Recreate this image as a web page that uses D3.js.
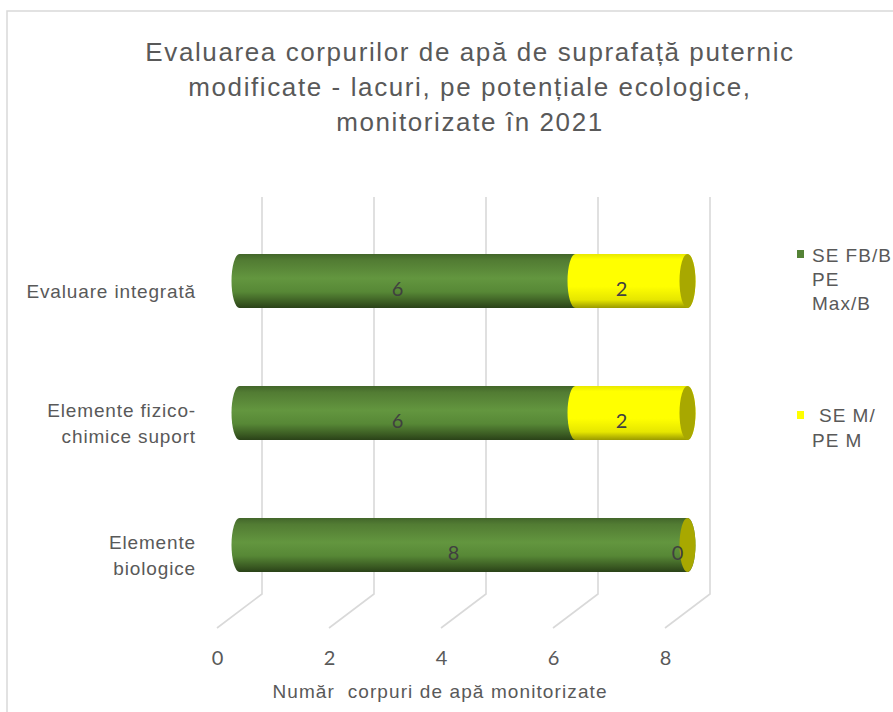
<!DOCTYPE html>
<html>
<head>
<meta charset="utf-8">
<script src="https://cdn.jsdelivr.net/npm/d3@7"></script>
<style>
  html, body { margin: 0; padding: 0; background: #fff; }
  svg { display: block; }
</style>
</head>
<body>
<svg id="chart" width="893" height="712"></svg>
<script>
// ---- data ----
const categories = ["Evaluare integrată", "Elemente fizico-chimice suport", "Elemente biologice"];
const categoryLines = [["Evaluare integrată"], ["Elemente fizico-", "chimice suport"], ["Elemente", "biologice"]];
const seriesNames = ["SE FB/B PE Max/B", "SE M/ PE M"];
const seriesGood = [6, 6, 8];
const seriesModerate = [2, 2, 0];
const tickValues = [0, 2, 4, 6, 8];
const titleLines = ["Evaluarea corpurilor de apă de suprafață puternic", "modificate - lacuri, pe potențiale ecologice,", "monitorizate în 2021"];
const axisTitle = "Număr  corpuri de apă monitorizate";

const svg = d3.select("#chart");
const textColor = "#595959";
const arial = "Liberation Sans, Arial, sans-serif";

// border
svg.append("rect").attr("x", 7).attr("y", 11).attr("width", 1000).attr("height", 1000)
  .attr("fill", "none").attr("stroke", "#d9d9d9").attr("stroke-width", 1.5);

// title
svg.append("g").selectAll("text").data(titleLines).join("text")
  .attr("x", 470).attr("y", (d, i) => 61 + i * 35)
  .attr("text-anchor", "middle")
  .attr("font-family", arial).attr("letter-spacing", "1.6px")
  .attr("font-size", 26).attr("fill", textColor).text(d => d);

// scales: front, mid (bars), back planes
const xFront = d3.scaleLinear().domain([0, 8]).range([217, 665]);
const xMid = d3.scaleLinear().domain([0, 8]).range([239.5, 687.5]);
const xBack = d3.scaleLinear().domain([0, 8]).range([262, 710]);
const y = d3.scaleBand().domain(categories).range([215, 611]).paddingInner(0.591).paddingOuter(0.2955);
const wallTop = 197, wallBottom = 594, floorFront = 628;

// gridlines (back wall + floor)
const grid = svg.append("g").attr("stroke", "#d9d9d9").attr("stroke-width", 1.6).attr("fill", "none");
grid.selectAll("path").data(tickValues).join("path")
  .attr("d", d => `M${xBack(d)},${wallTop} L${xBack(d)},${wallBottom} L${xFront(d)},${floorFront}`);

// tick labels
const axis = d3.axisBottom(xFront).tickValues(tickValues).tickSize(0).tickPadding(0).tickFormat(d3.format("d"));
const axG = svg.append("g").attr("transform", `translate(0,${665})`).call(axis);
axG.select(".domain").remove();
axG.selectAll("text").attr("dy", 0).attr("font-family", "Lato, Carlito, sans-serif")
  .attr("font-size", 20).attr("fill", textColor);

// axis title
svg.append("text").attr("x", 440).attr("y", 698).attr("text-anchor", "middle")
  .attr("xml:space", "preserve").style("white-space", "pre")
  .attr("font-family", arial).attr("letter-spacing", "1.1px")
  .attr("font-size", 19).attr("fill", textColor).text(axisTitle);

// category labels
const catG = svg.append("g");
categories.forEach((c, i) => {
  const lines = categoryLines[i];
  const cy = y(c) + y.bandwidth() / 2 + 10;
  const lh = 26;
  const t = catG.append("text").attr("text-anchor", "end")
    .attr("font-family", arial).attr("letter-spacing", "0.85px")
    .attr("font-size", 19).attr("fill", textColor);
  lines.forEach((l, j) => {
    t.append("tspan").attr("x", 196).attr("y", cy + 7 + (j - (lines.length - 1) / 2) * lh).text(l);
  });
});

// gradients
const defs = svg.append("defs");
function grad(id, stops) {
  const g = defs.append("linearGradient").attr("id", id).attr("x1", 0).attr("y1", 0).attr("x2", 0).attr("y2", 1);
  stops.forEach(s => g.append("stop").attr("offset", s[0]).attr("stop-color", s[1]));
}
grad("gGreen", [[0, "#42662a"], [0.12, "#527c33"], [0.45, "#63963f"], [0.7, "#578836"], [0.9, "#3a5a22"], [1, "#2a4218"]]);
grad("gYellow", [[0, "#e8e800"], [0.1, "#ffff00"], [0.6, "#ffff00"], [0.85, "#e6e600"], [1, "#9a9a00"]]);

const rx = 8;
function body(x0, x1, top, bot) {
  const ry = (bot - top) / 2;
  return `M${x0},${top} L${x1},${top} A${rx},${ry} 0 0 1 ${x1},${bot} L${x0},${bot} A${rx},${ry} 0 0 1 ${x0},${top} Z`;
}

const bars = svg.append("g");
categories.forEach((c, i) => {
  const top = y(c), bot = y(c) + y.bandwidth();
  const ry = (bot - top) / 2, cy = top + ry;
  const g0 = seriesGood[i], m = seriesModerate[i];
  bars.append("path").attr("d", body(xMid(0), xMid(g0), top, bot)).attr("fill", "url(#gGreen)");
  if (m > 0) {
    bars.append("path").attr("d", body(xMid(g0), xMid(g0 + m), top, bot)).attr("fill", "url(#gYellow)");
  }
  bars.append("ellipse").attr("cx", xMid(g0 + m)).attr("cy", cy).attr("rx", rx).attr("ry", ry).attr("fill", "#a8a800");
  const lab = [[g0 / 2, g0], [g0 + m / 2, m]];
  lab.forEach(([pos, v]) => {
    bars.append("text").attr("x", xMid(pos) - 10).attr("y", cy + 15)
      .attr("text-anchor", "middle").attr("font-family", "Lato, Carlito, sans-serif")
      .attr("font-size", 20).attr("fill", "#404040").text(v);
  });
});

// legend
const leg = svg.append("g").attr("font-family", arial).attr("letter-spacing", "1px").attr("font-size", 19).attr("fill", textColor);
leg.append("rect").attr("x", 797).attr("y", 250).attr("width", 7).attr("height", 8).attr("fill", "#548235");
const l1 = leg.append("text");
[["SE FB/B", 262], ["PE", 286], ["Max/B", 310]].forEach(([t, yy]) => l1.append("tspan").attr("x", 812).attr("y", yy).text(t));
leg.append("rect").attr("x", 797).attr("y", 411).attr("width", 7).attr("height", 8).attr("fill", "#ffff00");
const l2 = leg.append("text");
[["SE M/", 422, 819], ["PE M", 447, 812]].forEach(([t, yy, xx]) => l2.append("tspan").attr("x", xx).attr("y", yy).text(t));
</script>
</body>
</html>
